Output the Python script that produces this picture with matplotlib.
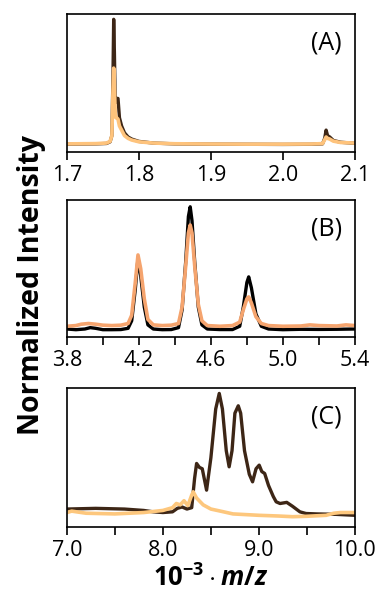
"""Three-panel stacked mass spectra (A: 1.7-2.1, B: 3.8-5.4, C: 7-10 kDa window).

Dark trace vs. light-orange trace, normalized intensity, no y ticks.
Values are read off the reference figure by eye.
"""

import matplotlib
matplotlib.use("Agg")
import matplotlib.pyplot as plt

plt.rcParams["font.family"] = ["Open Sans", "DejaVu Sans"]
plt.rcParams["mathtext.fontset"] = "custom"
plt.rcParams["mathtext.rm"] = "Open Sans:bold"
plt.rcParams["mathtext.it"] = "Open Sans:bold:italic"
plt.rcParams["mathtext.bf"] = "Open Sans:bold"

# --- panel A: 10^-3 m/z 1.7-2.1 ---
A_X_DARK = [1.700, 1.740, 1.755, 1.760, 1.7625, 1.764, 1.765, 1.766, 1.767,
            1.768, 1.769, 1.771, 1.773, 1.776, 1.780, 1.785, 1.790, 1.800,
            1.820, 1.850, 1.900, 1.950, 2.000, 2.040, 2.055, 2.058, 2.060,
            2.062, 2.065, 2.070, 2.080, 2.100]
A_Y_DARK = [0.058, 0.060, 0.063, 0.075, 0.12, 0.55, 0.964, 0.72, 0.40,
            0.36, 0.39, 0.39, 0.25, 0.19, 0.14, 0.11, 0.095, 0.078,
            0.066, 0.060, 0.058, 0.057, 0.056, 0.057, 0.060, 0.10, 0.16,
            0.12, 0.11, 0.085, 0.072, 0.064]
A_X_ORANGE = [1.700, 1.740, 1.755, 1.760, 1.7625, 1.764, 1.765, 1.766, 1.767,
              1.768, 1.769, 1.771, 1.773, 1.776, 1.780, 1.785, 1.790, 1.800,
              1.820, 1.850, 1.900, 1.950, 2.000, 2.040, 2.055, 2.058, 2.060,
              2.062, 2.065, 2.070, 2.080, 2.100]
A_Y_ORANGE = [0.060, 0.062, 0.066, 0.078, 0.12, 0.45, 0.61, 0.48, 0.30,
              0.25, 0.25, 0.24, 0.19, 0.16, 0.12, 0.10, 0.088, 0.075,
              0.066, 0.061, 0.059, 0.058, 0.058, 0.059, 0.062, 0.09, 0.11,
              0.10, 0.095, 0.08, 0.07, 0.066]

# --- panel B: 10^-3 m/z 3.8-5.4 ---
B_X_DARK = [3.80, 3.85, 3.90, 3.93, 3.96, 4.00, 4.05, 4.10, 4.14, 4.16,
            4.18, 4.195, 4.21, 4.23, 4.25, 4.28, 4.33, 4.38, 4.42, 4.44,
            4.46, 4.475, 4.485, 4.495, 4.51, 4.53, 4.55, 4.58, 4.65, 4.72,
            4.76, 4.78, 4.80, 4.81, 4.825, 4.85, 4.88, 4.92, 5.00, 5.10,
            5.20, 5.30, 5.40]
B_Y_DARK = [0.060, 0.055, 0.060, 0.070, 0.065, 0.055, 0.055, 0.056, 0.065, 0.12,
            0.35, 0.575, 0.45, 0.22, 0.09, 0.060, 0.055, 0.056, 0.070, 0.20,
            0.55, 0.88, 0.951, 0.85, 0.55, 0.22, 0.09, 0.060, 0.056, 0.056,
            0.08, 0.22, 0.40, 0.44, 0.36, 0.17, 0.08, 0.060, 0.055, 0.058,
            0.057, 0.058, 0.060]
B_X_ORANGE = [3.80, 3.85, 3.88, 3.92, 3.96, 4.00, 4.05, 4.10, 4.14, 4.16,
              4.18, 4.195, 4.21, 4.23, 4.25, 4.28, 4.33, 4.38, 4.42, 4.44,
              4.46, 4.475, 4.485, 4.495, 4.51, 4.53, 4.55, 4.58, 4.65, 4.72,
              4.76, 4.78, 4.80, 4.81, 4.825, 4.85, 4.88, 4.92, 5.00, 5.10,
              5.15, 5.20, 5.30, 5.35, 5.40]
B_Y_ORANGE = [0.080, 0.085, 0.095, 0.100, 0.095, 0.088, 0.085, 0.088, 0.10, 0.16,
              0.40, 0.60, 0.50, 0.28, 0.13, 0.090, 0.085, 0.088, 0.10, 0.22,
              0.52, 0.76, 0.818, 0.76, 0.52, 0.24, 0.12, 0.085, 0.080, 0.085,
              0.11, 0.20, 0.28, 0.294, 0.25, 0.15, 0.10, 0.085, 0.080, 0.082,
              0.090, 0.085, 0.082, 0.090, 0.085]

# --- panel C: 10^-3 m/z 7-10 ---
C_X_DARK = [7.00, 7.30, 7.60, 7.80, 7.90, 8.00, 8.10, 8.15, 8.20, 8.25,
            8.30, 8.33, 8.351, 8.38, 8.41, 8.455, 8.50, 8.55, 8.587, 8.62,
            8.66, 8.69, 8.72, 8.75, 8.785, 8.81, 8.85, 8.90, 8.934, 8.97,
            9.003, 9.03, 9.06, 9.10, 9.15, 9.18, 9.22, 9.29, 9.35, 9.427,
            9.49, 9.60, 9.80, 10.00]
C_Y_DARK = [0.130, 0.135, 0.130, 0.120, 0.110, 0.105, 0.110, 0.135, 0.145, 0.130,
            0.140, 0.35, 0.458, 0.43, 0.42, 0.266, 0.50, 0.85, 0.962, 0.85,
            0.55, 0.434, 0.55, 0.82, 0.873, 0.82, 0.55, 0.38, 0.326, 0.42,
            0.446, 0.40, 0.386, 0.30, 0.22, 0.182, 0.17, 0.178, 0.15, 0.11,
            0.098, 0.095, 0.092, 0.085]
C_X_ORANGE = [7.00, 7.05, 7.20, 7.50, 7.80, 8.00, 8.10, 8.14, 8.18, 8.22,
              8.26, 8.30, 8.316, 8.35, 8.42, 8.50, 8.60, 8.73, 9.00, 9.20,
              9.35, 9.50, 9.70, 9.78, 9.85, 10.00]
C_Y_ORANGE = [0.105, 0.115, 0.100, 0.095, 0.105, 0.120, 0.140, 0.170, 0.160, 0.190,
              0.155, 0.230, 0.254, 0.210, 0.160, 0.130, 0.115, 0.095, 0.085, 0.080,
              0.075, 0.078, 0.085, 0.100, 0.105, 0.105]

PANELS = [
    # label, xlim, tick step, labelled ticks, dark, orange, colours
    ("(A)", (1.7, 2.1), 0.1, [1.7, 1.8, 1.9, 2.0, 2.1],
     (A_X_DARK, A_Y_DARK), (A_X_ORANGE, A_Y_ORANGE), "#3d2616", "#fec37c"),
    ("(B)", (3.8, 5.4), 0.2, [3.8, 4.2, 4.6, 5.0, 5.4],
     (B_X_DARK, B_Y_DARK), (B_X_ORANGE, B_Y_ORANGE), "#000000", "#f5a46e"),
    ("(C)", (7.0, 10.0), 0.5, [7.0, 8.0, 9.0, 10.0],
     (C_X_DARK, C_Y_DARK), (C_X_ORANGE, C_Y_ORANGE), "#3d2616", "#fdc77d"),
]

# axes boxes in figure fraction: left, bottom, width, height
BOXES = [
    (0.176, 0.746, 0.758, 0.230),
    (0.176, 0.437, 0.758, 0.229),
    (0.176, 0.120, 0.758, 0.232),
]


def main():
    fig = plt.figure(figsize=(3.8, 5.99), dpi=100)

    for box, (label, xlim, step, labelled, dark, orange, c_dark, c_or) in zip(BOXES, PANELS):
        ax = fig.add_axes(box)
        ax.plot(*dark, color=c_dark, lw=2.4, solid_joinstyle="round")
        ax.plot(*orange, color=c_or, lw=2.6, solid_joinstyle="round")
        ax.set_xlim(*xlim)
        ax.set_ylim(0, 1.0)
        ax.set_yticks([])

        ticks = [xlim[0] + i * step for i in range(int(round((xlim[1] - xlim[0]) / step)) + 1)]
        ax.set_xticks(ticks)
        names = []
        for t in ticks:
            hit = [v for v in labelled if abs(v - t) < 1e-6]
            names.append(f"{hit[0]:.1f}" if hit else "")
        ax.set_xticklabels(names)
        ax.tick_params(axis="x", direction="out", length=6, width=1.2,
                       labelsize=15.5, pad=3)
        for sp in ax.spines.values():
            sp.set_linewidth(1.2)

        ax.text(0.955, 0.79, label, transform=ax.transAxes, ha="right",
                va="center", fontsize=18)

    # x label for the bottom panel, baseline placed just under the tick labels
    fig.text(0.555, 0.022, r"$10^{-3}\cdot\mathit{m/z}$", ha="center",
             va="baseline", fontsize=18.5)

    fig.text(0.082, 0.524, "Normalized Intensity", rotation=90, ha="center",
             va="center", fontsize=20.5, fontweight="bold")

    fig.savefig("out.png", dpi=100)
    plt.close(fig)


if __name__ == "__main__":
    main()
